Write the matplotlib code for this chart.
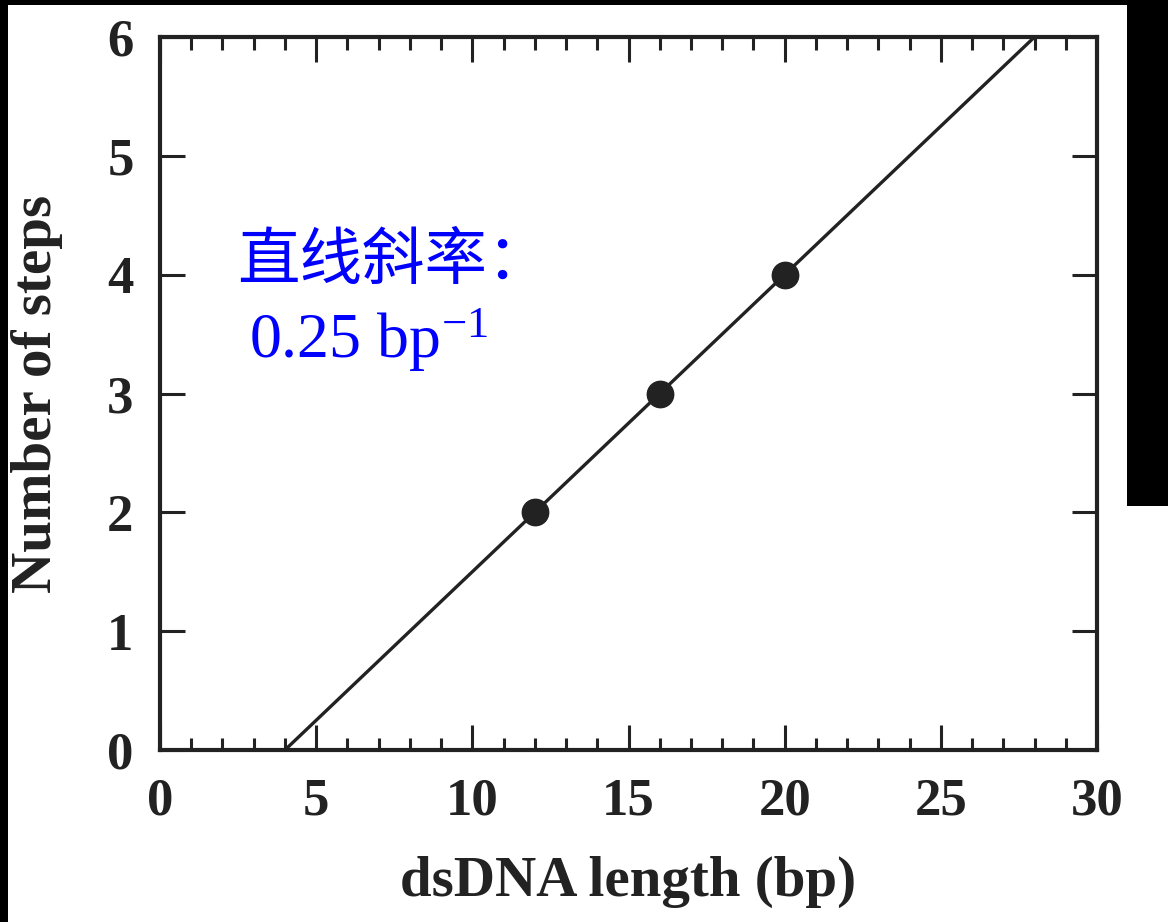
import matplotlib
matplotlib.use("Agg")
import matplotlib.pyplot as plt
from matplotlib.patches import Rectangle
from matplotlib.ticker import MultipleLocator

# Measured step counts versus dsDNA length
lengths_bp = [12, 16, 20]
steps = [2, 3, 4]

# Linear fit: slope 0.25 per bp, crossing zero at 4 bp
fit_x = [4, 28]
fit_y = [0, 6]

plt.rcParams['mathtext.fontset'] = 'custom'
plt.rcParams['mathtext.rm'] = 'Liberation Serif'
plt.rcParams['mathtext.it'] = 'Liberation Serif:italic'

W, H = 1168, 922
fig = plt.figure(figsize=(W / 100, H / 100), dpi=100)
fig.patch.set_facecolor('white')

# dark frame strips around the figure
for (x0, y0, w, h) in [(0, 0, 8, H), (0, H - 5, W, 5), (1127, H - 506, W - 1127, 506)]:
    fig.add_artist(Rectangle((x0 / W, y0 / H), w / W, h / H, transform=fig.transFigure,
                             facecolor='black', edgecolor='none', zorder=0))

ax = fig.add_axes([160 / W, 1 - 750 / H, (1097 - 160) / W, (750 - 37) / H])
ink = '#222222'

ax.plot(fit_x, fit_y, color=ink, lw=2.4, solid_capstyle='butt', clip_on=False, zorder=2)
ax.plot(lengths_bp, steps, 'o', color=ink, ms=19, zorder=3)

ax.set_xlim(0, 30)
ax.set_ylim(0, 6)
ax.xaxis.set_major_locator(MultipleLocator(5))
ax.xaxis.set_minor_locator(MultipleLocator(1))
ax.yaxis.set_major_locator(MultipleLocator(1))

for s in ax.spines.values():
    s.set_linewidth(3.0)
    s.set_color(ink)

ax.tick_params(axis='x', which='both', direction='in', top=True, bottom=True, color=ink)
ax.tick_params(axis='y', which='both', direction='in', left=True, right=True, color=ink)
ax.tick_params(which='major', length=18, width=2.2)
ax.tick_params(which='minor', length=9, width=2.2)
ax.tick_params(axis='x', which='major', pad=20)
ax.tick_params(axis='y', which='major', pad=19)

for lab in ax.get_xticklabels() + ax.get_yticklabels():
    lab.set_fontfamily('Liberation Serif')
    lab.set_fontweight('bold')
    lab.set_fontsize(38)
    lab.set_color(ink)

ax.set_xlabel('dsDNA length (bp)', fontfamily='Liberation Serif', fontweight='bold',
              fontsize=41, color=ink)
ax.set_ylabel('Number of steps', fontfamily='Liberation Serif', fontweight='bold',
              fontsize=41, color=ink)
ax.xaxis.set_label_coords(0.5, -0.148)
ax.yaxis.set_label_coords(-0.104, 0.5)

ax.text(0.082, 0.686, '直线斜率：', transform=ax.transAxes, color='#0000ff',
        fontsize=45, family=['Noto Sans CJK SC', 'DejaVu Sans'], va='center', ha='left')
ax.text(0.095, 0.575, r'0.25 bp$^{\mathrm{-1}}$', transform=ax.transAxes, color='#0000ff',
        fontsize=46, family='Liberation Serif', va='center', ha='left')

fig.savefig('out.png', dpi=100, facecolor=fig.get_facecolor())
